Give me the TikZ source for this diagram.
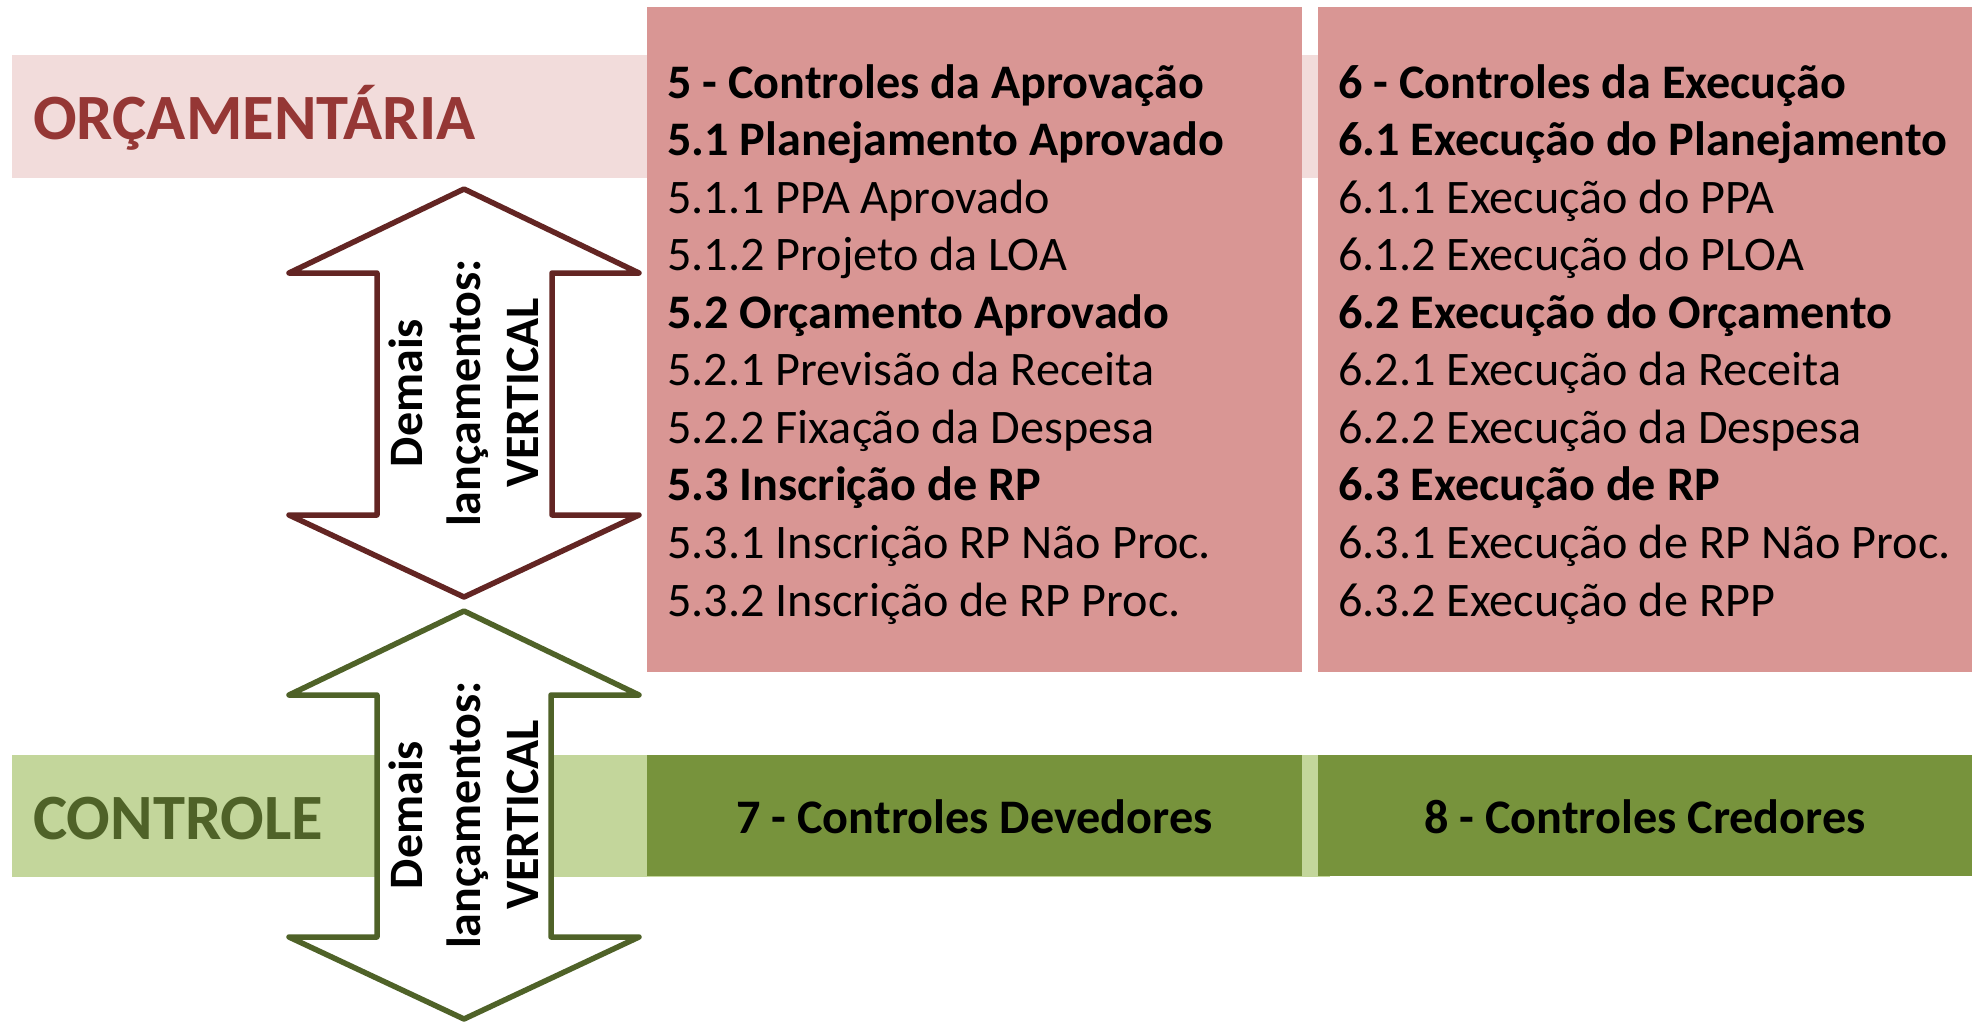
\documentclass[tikz,border=0pt]{standalone}
\usepackage{fontspec}
\setmainfont{Carlito}
\definecolor{bandpink}{HTML}{F2DCDB}
\definecolor{boxpink}{HTML}{D99694}
\definecolor{orctext}{HTML}{953735}
\definecolor{redline}{HTML}{632523}
\definecolor{bandgreen}{HTML}{C3D69B}
\definecolor{boxgreen}{HTML}{77933C}
\definecolor{greentext}{HTML}{4F6228}
\begin{document}
\begin{tikzpicture}[x=1pt,y=-1pt,
  item/.style={anchor=base west, inner sep=0pt, font=\fontsize{48.2}{57.6}\selectfont},
  itemb/.style={anchor=base west, inner sep=0pt, font=\fontsize{48.2}{57.6}\selectfont\bfseries},
  ctext/.style={anchor=base, inner sep=0pt, font=\fontsize{48.2}{57.6}\selectfont\bfseries},
  rottext/.style={anchor=base, inner sep=0pt, rotate=90, font=\fontsize{48}{57.6}\selectfont\bfseries},
  bigtitle/.style={anchor=base west, inner sep=0pt, font=\fontsize{64.6}{77}\selectfont\bfseries},
  arrowshape/.style={fill=white, line width=5.5pt, line join=round}
]
\useasboundingbox (0,0) rectangle (1972,1023);
% bands
\fill[bandpink] (12,55) rectangle (1330,178);
\fill[bandgreen] (12,755) rectangle (1330,877);
% boxes
\fill[boxpink] (647,7) rectangle (1302,672);
\fill[boxpink] (1318,7) rectangle (1972,672);
\fill[boxgreen] (647,755) rectangle (1302,876);
\fill[boxgreen] (1318,755) rectangle (1972,876);
% titles
\node[bigtitle, text=orctext] (orc) at (33,139) {ORÇAMENTÁRIA};
\node[bigtitle, text=greentext] (ctl) at (33,839) {CONTROLE};
% arrows
\draw[arrowshape, draw=redline] (464,189) -- (639,273) -- (552,273) -- (552,515) -- (639,515) -- (464,597) -- (289,515) -- (377,515) -- (377,273) -- (289,273) -- cycle;
\draw[arrowshape, draw=greentext] (464,611) -- (639,695) -- (551,695) -- (551,937) -- (639,937) -- (464,1019) -- (289,937) -- (377,937) -- (377,695) -- (289,695) -- cycle;
\node[rottext] (ra1) at (422,393) {Demais};
\node[rottext] (ra2) at (480,393) {lançamentos:};
\node[rottext] (ra3) at (538,393) {VERTICAL};
\node[rottext] (ga1) at (422,815) {Demais};
\node[rottext] (ga2) at (480,815) {lançamentos:};
\node[rottext] (ga3) at (538,815) {VERTICAL};
% left box
\node[itemb] (a0) at (667,98.0) {5 - Controles da Aprovação};
\node[itemb] (a1) at (667,155.6) {5.1 Planejamento Aprovado};
\node[item] (a2) at (667,213.1) {5.1.1 PPA Aprovado};
\node[item] (a3) at (667,270.7) {5.1.2 Projeto da LOA};
\node[itemb] (a4) at (667,328.2) {5.2 Orçamento Aprovado};
\node[item] (a5) at (667,385.8) {5.2.1 Previsão da Receita};
\node[item] (a6) at (667,443.3) {5.2.2 Fixação da Despesa};
\node[itemb] (a7) at (667,500.9) {5.3 Inscrição de RP};
\node[item] (a8) at (667,558.4) {5.3.1 Inscrição RP Não Proc.};
\node[item] (a9) at (667,616.0) {5.3.2 Inscrição de RP Proc.};
% right box
\node[itemb] (b0) at (1338,98.0) {6 - Controles da Execução};
\node[itemb] (b1) at (1338,155.6) {6.1 Execução do Planejamento};
\node[item] (b2) at (1338,213.1) {6.1.1 Execução do PPA};
\node[item] (b3) at (1338,270.7) {6.1.2 Execução do PLOA};
\node[itemb] (b4) at (1338,328.2) {6.2 Execução do Orçamento};
\node[item] (b5) at (1338,385.8) {6.2.1 Execução da Receita};
\node[item] (b6) at (1338,443.3) {6.2.2 Execução da Despesa};
\node[itemb] (b7) at (1338,500.9) {6.3 Execução de RP};
\node[item] (b8) at (1338,558.4) {6.3.1 Execução de RP Não Proc.};
\node[item] (b9) at (1338,616.0) {6.3.2 Execução de RPP};
% green boxes
\node[ctext] (g1) at (974.5,833) {7 - Controles Devedores};
\node[ctext] (g2) at (1645,833) {8 - Controles Credores};
\end{tikzpicture}
\end{document}
